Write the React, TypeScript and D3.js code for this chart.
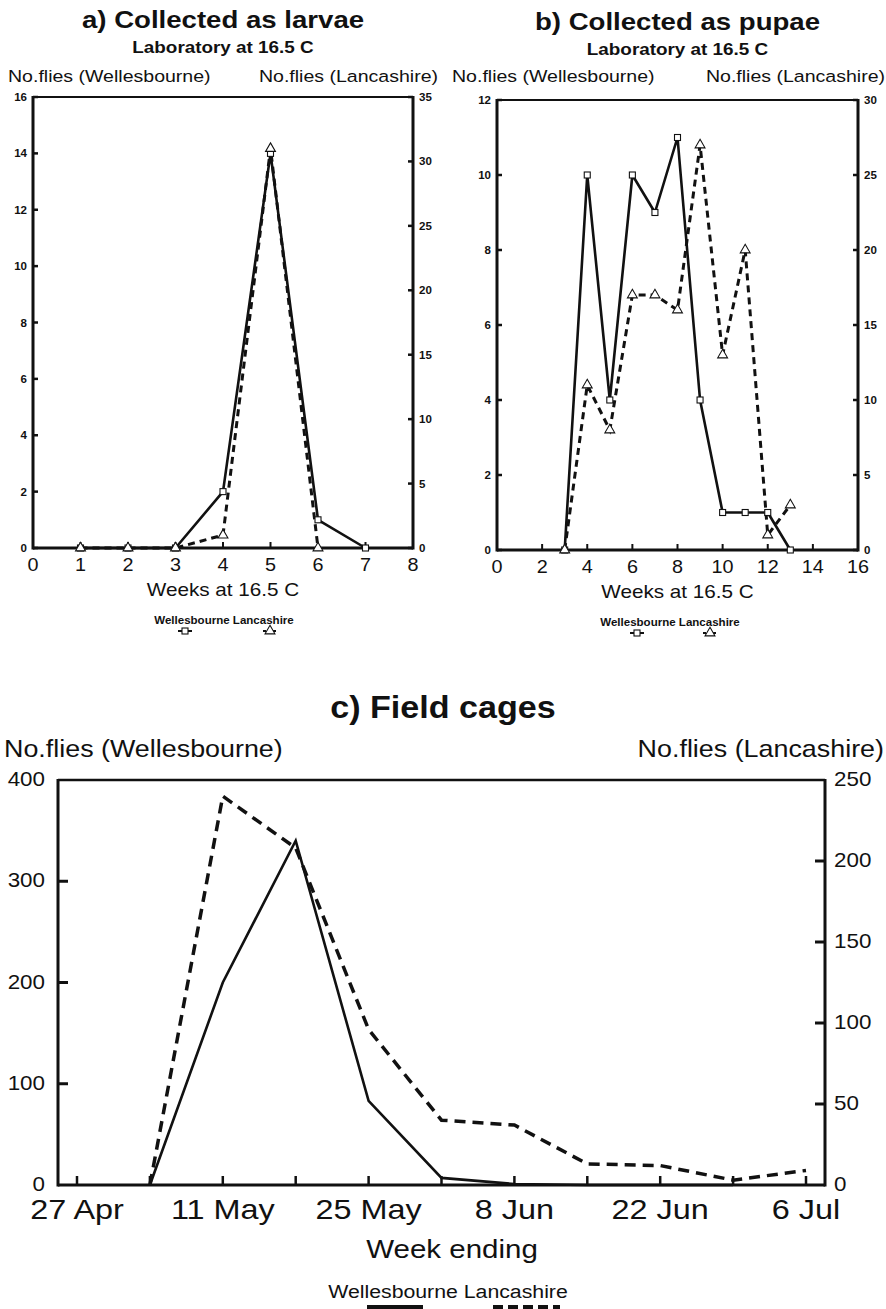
import React, { useEffect, useRef } from 'react';
import * as d3 from 'd3';

// a) Collected as larvae (weeks at 16.5 C)
const larvaeWeeks = [1, 2, 3, 4, 5, 6, 7];
const larvaeWellesbourne = [0, 0, 0, 2, 14, 1, 0];
const larvaeLancashire = [0, 0, 0, 1, 31, 0, null];

// b) Collected as pupae
const pupaeWeeks = [3, 4, 5, 6, 7, 8, 9, 10, 11, 12, 13];
const pupaeWellesbourne = [0, 10, 4, 10, 9, 11, 4, 1, 1, 1, 0];
const pupaeLancashire = [0, 11, 8, 17, 17, 16, 27, 13, 20, 1, 3];

// c) Field cages (week ending)
const fieldWeeks = ['27 Apr', '4 May', '11 May', '18 May', '25 May', '1 Jun', '8 Jun', '15 Jun', '22 Jun', '29 Jun', '6 Jul'];
const fieldTickLabels = ['27 Apr', '', '11 May', '', '25 May', '', '8 Jun', '', '22 Jun', '', '6 Jul'];
const fieldWellesbourne = [null, 0, 200, 340, 83, 7, 1, 0, 0, 0, null];
const fieldLancashire = [null, 0, 240, 208, 96, 40, 37, 13, 12, 3, 9];

const FONT = '"Liberation Sans", Arial, sans-serif';
const INK = '#111';

const addText = (g: any, x: number, y: number, str: string, size: number, o: any = {}) => {
    g.append('text')
        .attr('transform', `translate(${x},${y}) scale(${o.sx ?? 1.15},1)`)
        .attr('text-anchor', o.anchor ?? 'middle')
        .attr('font-family', FONT)
        .attr('font-size', size)
        .attr('font-weight', o.weight ?? 'normal')
        .attr('fill', INK)
        .text(str);
};

const addLine = (g: any, x1: number, y1: number, x2: number, y2: number, w: number, dash?: string) => {
    g.append('line')
        .attr('x1', x1).attr('y1', y1).attr('x2', x2).attr('y2', y2)
        .attr('stroke', INK)
        .attr('stroke-width', w)
        .attr('stroke-dasharray', dash ?? null);
};

const square = (g: any, cx: number, cy: number) => {
    g.append('rect')
        .attr('x', cx - 3).attr('y', cy - 3)
        .attr('width', 6).attr('height', 6)
        .attr('fill', '#fff').attr('stroke', INK).attr('stroke-width', 1.1);
};

const triangle = (g: any, cx: number, cy: number) => {
    g.append('path')
        .attr('transform', `translate(${cx},${cy})`)
        .attr('d', d3.symbol(d3.symbolTriangle, 42)())
        .attr('fill', '#fff').attr('stroke', INK).attr('stroke-width', 1.1);
};

const drawLabPanel = (root: any, p: any) => {
    const g = root.append('g');
    const x = d3.scaleLinear().domain([0, p.xMax]).range([p.left, p.right]);
    const yL = d3.scaleLinear().domain([0, p.yLMax]).range([p.bottom, p.top]);
    const yR = d3.scaleLinear().domain([0, p.yRMax]).range([p.bottom, p.top]);
    const cx = (p.left + p.right) / 2;

    // headings
    addText(g, cx, p.titleY, p.title, 23, { weight: 'bold', sx: 1.2 });
    addText(g, cx, p.titleY + 25, 'Laboratory at 16.5 C', 16, { weight: 'bold', sx: 1.18 });
    addText(g, p.noFliesLeft, 82, 'No.flies (Wellesbourne)', 17, { anchor: 'start' });
    addText(g, p.noFliesRight, 82, 'No.flies (Lancashire)', 17, { anchor: 'end' });

    // frame
    addLine(g, p.left, p.top, p.right, p.top, 1.8);
    addLine(g, p.left, p.top - 1, p.left, p.bottom + 1.5, 3);
    addLine(g, p.right, p.top - 1, p.right, p.bottom + 1.5, 3);
    addLine(g, p.left, p.bottom, p.right, p.bottom, 3);

    d3.range(0, p.yLMax + 0.01, p.yLStep).forEach(v => {
        addLine(g, p.left, yL(v), p.left + 5, yL(v), 2.5);
        addText(g, p.left - 6, yL(v) + 4, String(v), 11, { anchor: 'end', weight: 'bold', sx: 1.05 });
    });
    d3.range(0, p.yRMax + 0.01, p.yRStep).forEach(v => {
        addLine(g, p.right - 5, yR(v), p.right, yR(v), 2.5);
        addText(g, p.right + 6, yR(v) + 4, String(v), 11, { anchor: 'start', weight: 'bold', sx: 1.05 });
    });
    p.xTickMarks.forEach((v: number) => addLine(g, x(v), p.bottom, x(v), p.bottom - 6, 2));
    d3.range(0, p.xMax + 0.01, p.xLabelStep).forEach(v => {
        addText(g, x(v), p.bottom + 23, String(v), 18, { sx: 1.1 });
    });
    addText(g, cx, p.bottom + 48, 'Weeks at 16.5 C', 18, { sx: 1.15 });

    // series
    const pts = (vals: (number | null)[], y: any) =>
        p.weeks.map((w: number, i: number) => [x(w), vals[i] == null ? null : y(vals[i])]);
    const line = d3.line<any>().defined(d => d[1] != null).x(d => d[0]).y(d => d[1]);
    const well = pts(p.well, yL);
    const lancs = pts(p.lancs, yR);
    g.append('path').attr('d', line(well)).attr('fill', 'none')
        .attr('stroke', INK).attr('stroke-width', 2.6).attr('stroke-linejoin', 'round');
    g.append('path').attr('d', line(lancs)).attr('fill', 'none')
        .attr('stroke', INK).attr('stroke-width', 3).attr('stroke-dasharray', '7,5');
    well.forEach((d: any) => square(g, d[0], d[1]));
    lancs.filter((d: any) => d[1] != null).forEach((d: any) => triangle(g, d[0], d[1]));

    // legend
    addText(g, p.legendX, p.bottom + 76, 'Wellesbourne Lancashire', 11, { weight: 'bold', sx: 1.05 });
    const ly = p.bottom + 83;
    addLine(g, p.legendMarks[0] - 7, ly, p.legendMarks[0] + 7, ly, 2);
    square(g, p.legendMarks[0], ly);
    addLine(g, p.legendMarks[1] - 7, ly, p.legendMarks[1] + 7, ly, 2, '3,2');
    triangle(g, p.legendMarks[1], ly);
};

const drawField = (root: any) => {
    const g = root.append('g');
    const left = 58, right = 825, top = 780, bottom = 1185;
    const x = d3.scaleLinear().domain([0, fieldWeeks.length - 1]).range([77, 806]);
    const yL = d3.scaleLinear().domain([0, 400]).range([bottom, top]);
    const yR = d3.scaleLinear().domain([0, 250]).range([bottom, top]);

    addText(g, 443, 718, 'c) Field cages', 31, { weight: 'bold', sx: 1.1 });
    addText(g, 4, 757, 'No.flies (Wellesbourne)', 24, { anchor: 'start', sx: 1.12 });
    addText(g, 884, 757, 'No.flies (Lancashire)', 24, { anchor: 'end', sx: 1.12 });

    addLine(g, left, top, right, top, 2.5);
    addLine(g, left, top - 1, left, bottom + 1.5, 3);
    addLine(g, right, top - 1, right, bottom + 1.5, 3);
    addLine(g, left, bottom, right, bottom, 3);

    d3.range(0, 401, 100).forEach(v => {
        if (v > 0 && v < 400) addLine(g, left, yL(v), left + 10, yL(v), 3);
        addText(g, 45, yL(v) + 6, String(v), 20, { anchor: 'end', sx: 1.12 });
    });
    d3.range(0, 251, 50).forEach(v => {
        if (v > 0 && v < 250) addLine(g, right - 10, yR(v), right, yR(v), 3);
        addText(g, 834, yR(v) + 6, String(v), 20, { anchor: 'start', sx: 1.12 });
    });
    fieldWeeks.forEach((w, i) => {
        addLine(g, x(i), bottom, x(i), bottom - 9, 2.5);
        if (fieldTickLabels[i]) addText(g, x(i), 1219, fieldTickLabels[i], 27, { sx: 1.2 });
    });
    addText(g, 452, 1258, 'Week ending', 25, { sx: 1.18 });

    const line = d3.line<any>().defined(d => d[1] != null).x(d => d[0]).y(d => d[1]);
    const well = fieldWellesbourne.map((v, i) => [x(i), v == null ? null : yL(v)]);
    const lancs = fieldLancashire.map((v, i) => [x(i), v == null ? null : yR(v)]);
    g.append('path').attr('d', line(well)).attr('fill', 'none')
        .attr('stroke', INK).attr('stroke-width', 2.6);
    g.append('path').attr('d', line(lancs)).attr('fill', 'none')
        .attr('stroke', INK).attr('stroke-width', 3.5).attr('stroke-dasharray', '11,7');

    addText(g, 448, 1298, 'Wellesbourne Lancashire', 19, { sx: 1.12 });
    addLine(g, 367, 1307, 423, 1307, 4);
    addLine(g, 493, 1307, 560, 1307, 4, '10,5');
};

const App = () => {
    const chartRef = useRef<SVGSVGElement>(null);

    useEffect(() => {
        const svg = d3.select(chartRef.current);
        svg.selectAll('*').remove();

        drawLabPanel(svg, {
            left: 33, right: 413, top: 97, bottom: 548,
            xMax: 8, xLabelStep: 1, xTickMarks: [1, 2, 3, 4, 5, 6, 7],
            yLMax: 16, yLStep: 2, yRMax: 35, yRStep: 5,
            weeks: larvaeWeeks, well: larvaeWellesbourne, lancs: larvaeLancashire,
            title: 'a) Collected as larvae', titleY: 28,
            noFliesLeft: 8, noFliesRight: 438,
            legendX: 224, legendMarks: [185, 270],
        });
        drawLabPanel(svg, {
            left: 497, right: 858, top: 100, bottom: 550,
            xMax: 16, xLabelStep: 2, xTickMarks: [2, 4, 6, 8, 10, 12, 14],
            yLMax: 12, yLStep: 2, yRMax: 30, yRStep: 5,
            weeks: pupaeWeeks, well: pupaeWellesbourne, lancs: pupaeLancashire,
            title: 'b) Collected as pupae', titleY: 30,
            noFliesLeft: 452, noFliesRight: 885,
            legendX: 670, legendMarks: [637, 710],
        });
        drawField(svg);
    }, []);

    return (
        <svg ref={chartRef} width={886} height={1309}
            style={{ position: 'absolute', left: 0, top: 0, background: '#fff' }} />
    );
};

export default App;
